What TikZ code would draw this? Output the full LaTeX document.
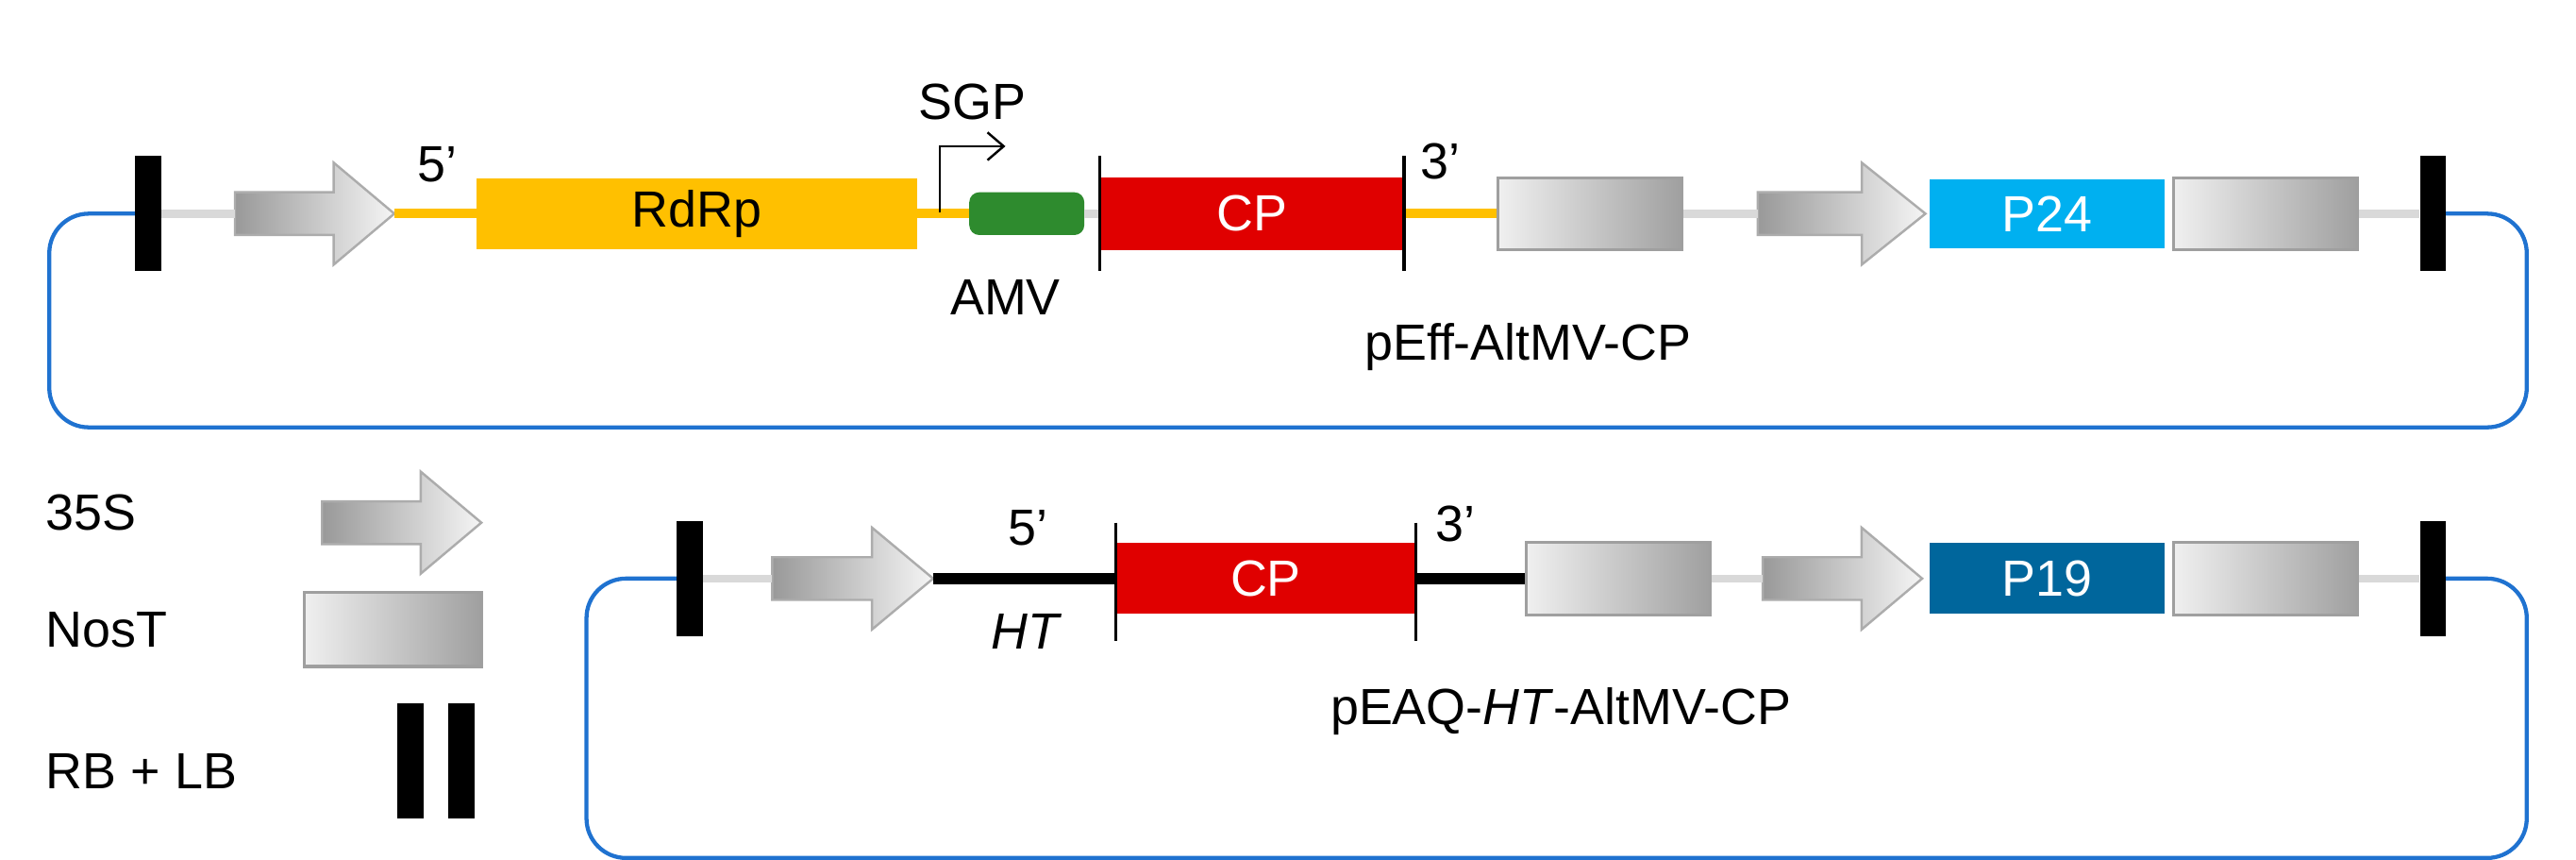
\documentclass[tikz,border=0pt]{standalone}
\usepackage{fontspec}
\setmainfont{Liberation Sans}
\usetikzlibrary{arrows.meta}
\definecolor{rdrp}{HTML}{FFC000}
\definecolor{amv}{HTML}{2E8B2E}
\definecolor{cpred}{HTML}{E00000}
\definecolor{p24}{HTML}{00B0F0}
\definecolor{p19}{HTML}{00669C}
\definecolor{loopc}{HTML}{1F72D0}
\definecolor{bb}{HTML}{D9D9D9}
\tikzset{
  lab/.style={font=\fontsize{44}{50}\selectfont, inner sep=0pt},
  gene/.style={lab, minimum height=2.2cm, text=white},
  nost/.style={draw=gray!75, line width=2.5pt, left color=gray!12, right color=gray!75, minimum width=5.6cm, minimum height=2.2cm, inner sep=0pt},
  bar/.style={fill=black, minimum width=0.8cm, minimum height=3.5cm, inner sep=0pt},
  bbone/.style={draw=bb, line width=7pt},
  yel/.style={draw=rdrp, line width=8pt},
  blk/.style={draw=black, line width=10pt},
  loopline/.style={draw=loopc, line width=3.5pt, rounded corners=1.2cm},
  vl/.style={draw=black, line width=2.5pt},
  prom/.style={draw=gray!65, line width=2pt, left color=gray!80, right color=gray!8},
}
\newcommand\promo[4]{% name, x0, x1, y
  \coordinate (#1s) at (#2,#4);
  \coordinate (#1e) at (#3,#4);
  \path[prom] (#2,#4-13) -- ({#2+0.62*(#3-#2)},#4-13) -- ({#2+0.62*(#3-#2)},#4-31)
    -- (#3,#4) -- ({#2+0.62*(#3-#2)},#4+31) -- ({#2+0.62*(#3-#2)},#4+13) -- (#2,#4+13) -- cycle;
}
\begin{document}
\begin{tikzpicture}[x=0.05cm,y=-0.05cm]
\useasboundingbox (0,0) rectangle (1568,523.2);
% ---------- top construct ----------
\coordinate (lb1c) at (90,130);
\coordinate (rb1c) at (1481,130);
\path[loopline] (lb1c) -- (30,130) -- (30,260) -- (1538,260) -- (1538,130) -- (rb1c);
\node[bar] (lb1) at (lb1c) {};
\node[bar] (rb1) at (rb1c) {};
\promo{pa}{143}{240}{130}
\node[gene, fill=rdrp, text=black, minimum width=13.4cm, minimum height=2.15cm] (rdrp) at (424,130) {RdRp};
\node[fill=amv, rounded corners=0.3cm, minimum width=3.5cm, minimum height=1.3cm, inner sep=0pt] (amv) at (625,130) {};
\node[gene, fill=cpred, minimum width=9.25cm] (cp1) at (762,130) {CP};
\node[nost] (n1) at (968,130) {};
\promo{pb}{1070}{1172}{130}
\node[gene, fill=p24, minimum width=7.15cm, minimum height=2.1cm] (p24) at (1246,130) {P24};
\node[nost] (n2) at (1379,130) {};
\path[bbone] (lb1.east) -- (pas);
\path[yel] (pae) -- (rdrp.west);
\path[yel] (rdrp.east) -- (amv.west);
\path[bbone] (amv.east) -- (cp1.west);
\path[yel] (cp1.east) -- (n1.west);
\path[bbone] (n1.east) -- (pbs);
\path[bbone] (n2.east) -- (rb1.west);
\path[vl] (cp1.west |- 0,95) -- (cp1.west |- 0,165);
\path[vl] (cp1.east |- 0,95) -- (cp1.east |- 0,165);
\coordinate (sgp0) at (572,129);
\coordinate (sgp1) at (612,89);
\draw[black, line width=2pt, -{Straight Barb[length=14pt,width=24pt,line width=2pt]}] (sgp0) -- (sgp0 |- sgp1) -- (sgp1);
\node[lab] (sgp) at (592,62) {SGP};
\node[lab] (amvl) at (612,181) {AMV};
\node[lab] (f5a) at (266,100) {5’};
\node[lab] (f3a) at (877,98) {3’};
\node[lab] (n1l) at (930,211) {pEff-AltMV-CP};
% ---------- bottom construct ----------
\coordinate (lb2c) at (420,352);
\coordinate (rb2c) at (1481,352);
\path[loopline] (lb2c) -- (357,352) -- (357,522) -- (1538,522) -- (1538,352) -- (rb2c);
\node[bar] (lb2) at (lb2c) {};
\node[bar] (rb2) at (rb2c) {};
\promo{pc}{470}{568}{352}
\node[gene, fill=cpred, minimum width=9.1cm, minimum height=2.15cm] (cp2) at (770.5,352) {CP};
\node[nost] (n3) at (985,352) {};
\promo{pd}{1073}{1170}{352}
\node[gene, fill=p19, minimum width=7.15cm, minimum height=2.15cm] (p19) at (1246,352) {P19};
\node[nost] (n4) at (1379,352) {};
\path[bbone] (lb2.east) -- (pcs);
\path[blk] (pce) -- (cp2.west);
\path[blk] (cp2.east) -- (n3.west);
\path[bbone] (n3.east) -- (pds);
\path[bbone] (n4.east) -- (rb2.west);
\path[vl] (cp2.west |- 0,318) -- (cp2.west |- 0,390);
\path[vl] (cp2.east |- 0,318) -- (cp2.east |- 0,390);
\node[lab] (f5b) at (626,321) {5’};
\node[lab] (htl) at (624,384) {\itshape HT};
\node[lab] (f3b) at (886,319) {3’};
\node[lab] (n2l) at (950,433) {pEAQ-\textit{HT}-AltMV-CP};
% ---------- legend ----------
\node[lab, anchor=west] (l35) at (28,312) {35S};
\promo{pl}{196}{293}{318}
\node[lab, anchor=west] (lnos) at (28,383) {NosT};
\node[nost, minimum width=5.4cm, minimum height=2.25cm] (nl) at (239,383) {};
\node[lab, anchor=west] (lrb) at (28,469) {RB + LB};
\node[bar] (bl1) at (250,463) {};
\node[bar] (bl2) at (281,463) {};
\end{tikzpicture}
\end{document}
